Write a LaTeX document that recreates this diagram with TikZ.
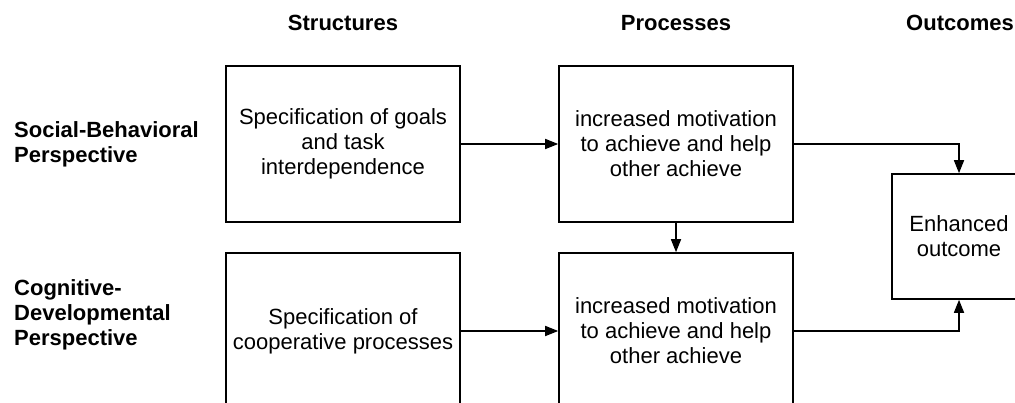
\documentclass[tikz,border=0pt]{standalone}
\usepackage{fontspec}
\setmainfont{Liberation Sans}
\usetikzlibrary{arrows.meta}
\begin{document}
\begin{tikzpicture}[x=1pt,y=-1pt,
  box/.style={draw=black,line width=1.6pt,minimum width=234pt,minimum height=156pt,inner sep=0pt,align=center,font=\fontsize{22}{25}\selectfont},
  outbox/.style={draw=black,line width=1.6pt,minimum width=134pt,minimum height=125pt,inner sep=0pt,align=center,font=\fontsize{22}{25}\selectfont},
  head/.style={anchor=base,inner sep=0pt,font=\fontsize{22}{25}\selectfont\bfseries},
  side/.style={anchor=west,inner sep=0pt,align=left,font=\fontsize{22}{25}\selectfont\bfseries},
  conn/.style={line width=1.6pt,-{Triangle[length=13pt,width=10pt]}}]
\useasboundingbox (0,0) rectangle (1015,403);
\clip (0,0) rectangle (1015,403);
\node[head] (hS) at (343,31) {Structures};
\node[head] (hP) at (676,31) {Processes};
\node[head] (hO) at (960,31) {Outcomes};
\node[side] (lSB) at (14,144) {Social-Behavioral\\Perspective};
\node[side] (lCD) at (14,315) {Cognitive-\\Developmental\\Perspective};
\node[box] (S1) at (343,144) {Specification of goals\\and task\\interdependence};
\node[box] (P1) at (676,144) {increased motivation\\to achieve and help\\other achieve};
\node[box] (S2) at (343,331) {Specification of\\cooperative processes};
\node[box] (P2) at (676,331) {increased motivation\\to achieve and help\\other achieve};
\node[outbox] (O) at (959,236.5) {Enhanced\\outcome};
\draw[conn] (S1) -- (P1);
\draw[conn] (S2) -- (P2);
\draw[conn] (P1) -- (P2);
\draw[conn] (P1.east) -| (O.north);
\draw[conn] (P2.east) -| (O.south);
\end{tikzpicture}
\end{document}
